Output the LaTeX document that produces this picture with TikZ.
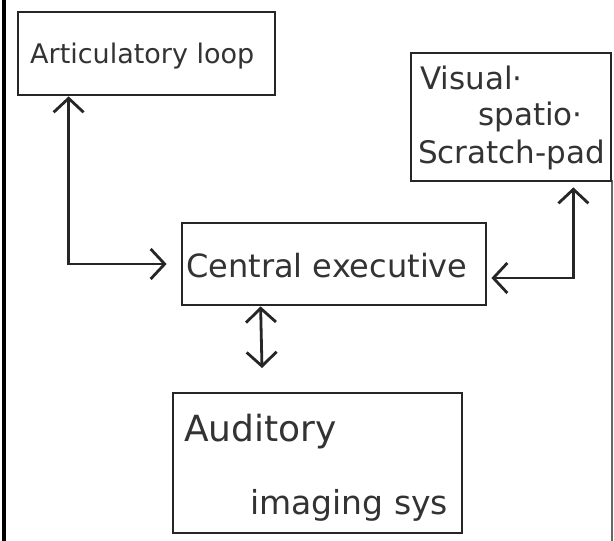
\documentclass[tikz,border=0pt]{standalone}
\usepackage{fontspec}
\setmainfont{DejaVu Sans}
\usetikzlibrary{arrows.meta,calc}
\tikzset{
  box/.style={draw=black!85, line width=2.8pt, minimum width=#1, inner sep=0pt},
  hand/.style={font=\fontsize{#1}{#1}\selectfont, text=black!80, inner sep=0pt, anchor=west},
  link/.style={draw=black!85, line width=2.8pt, {Straight Barb[length=14pt,width=30pt]}-{Straight Barb[length=14pt,width=30pt]}},
}
\begin{document}
\begin{tikzpicture}[x=1pt,y=-1pt]
\useasboundingbox (0,0) rectangle (614,541);
\fill[white] (0,0) rectangle (614,541);
% page edges
\draw[black, line width=3.5pt] (4,0) -- (4,541);
\draw[black!60, line width=1.5pt] (612,180) -- (612,541);
% boxes
\node[box=257pt, minimum height=83pt] (art) at (146.5,53.5) {};
\node[box=200pt, minimum height=128pt] (vis) at (511,117) {};
\node[box=304pt, minimum height=82pt] (ce) at (334,264) {};
\node[box=289pt, minimum height=140pt] (aud) at (317.5,463) {};
% texts
\node[hand=27] (tart) at (30,56) {Articulatory loop};
\node[hand=31] (tvis1) at (420,78) {Visual·};
\node[hand=31] (tvis2) at (478,117) {spatio·};
\node[hand=31] (tvis3) at (418,155) {Scratch-pad};
\node[hand=32] (tce) at (186,266) {Central executive};
\node[hand=36] (taud1) at (184,432) {Auditory};
\node[hand=33] (taud2) at (250,505) {imaging sys};
% connectors
\coordinate (audtip) at (262,368);
\draw[link] ($(art.south west)+(52,0)$) |- ($(ce.west)+(-14,0)$);
\draw[link] ($(vis.south east)+(-39,5)$) |- ($(ce.east)+(4,14)$);
\draw[link] ($(ce.south west)+(80,0)$) -- (audtip);
\end{tikzpicture}
\end{document}
